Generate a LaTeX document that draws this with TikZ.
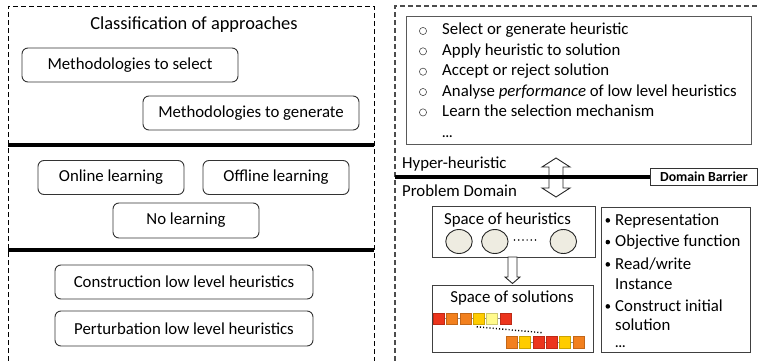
\documentclass[tikz,border=0pt]{standalone}
\usepackage{fontspec}
\usetikzlibrary{shapes.geometric}
\setmainfont{Carlito}
\definecolor{cred}{RGB}{236,52,28}
\definecolor{corange}{RGB}{242,128,30}
\definecolor{cgold}{RGB}{255,204,0}
\definecolor{clight}{RGB}{255,250,140}
\definecolor{cbeige}{RGB}{238,236,225}
\begin{document}
\begin{tikzpicture}[x=1pt,y=-1pt,
  panel/.style={dash pattern=on 5pt off 3pt, line width=0.9pt},
  divider/.style={line width=3.4pt},
  base/.style={font=\fontsize{16.8}{20}\selectfont, inner sep=0pt},
  title/.style={font=\fontsize{18.4}{22}\selectfont, inner sep=0pt},
  rbox/.style 2 args={draw=black!80, line width=0.9pt, rounded corners=6pt,
    base, minimum width=#1pt, minimum height=#2pt},
  txt/.style={base, anchor=base west},
  more/.style={font=\bfseries\fontsize{13}{14}\selectfont, inner sep=0pt, anchor=base west},
  frame/.style={draw=black!75, line width=1.1pt, inner sep=0pt},
  ring/.style={draw=black!70, line width=0.6pt},
  blockarrow/.style={draw=black!85, fill=white, line width=0.9pt, line join=miter},
  heur/.style={draw=black!85, fill=cbeige, line width=0.9pt, ellipse, inner sep=0pt,
    minimum width=26.5pt, minimum height=24pt},
  sq/.style={draw=#1!80!black, fill=#1, line width=0.4pt, inner sep=0pt,
    minimum width=10.8pt, minimum height=11pt},
  sqb/.style={draw=#1!80!black, fill=#1, line width=0.4pt, inner sep=0pt,
    minimum width=11.2pt, minimum height=12.6pt}
]
\useasboundingbox (0,0) rectangle (758,361);

% ---------- left panel: classification ----------
\draw[panel] (8,361) -- (8,6) -- (374,6) -- (374,361);
\draw[divider] (8,145) -- (374,145);
\draw[divider] (8,250) -- (374,250);

\node[title, anchor=base] (cls) at (194,30) {Classification of approaches};
\node[rbox={216}{34}] (sel) at (130,65) {Methodologies to select};
\node[rbox={216}{34}] (gen) at (251,113) {Methodologies to generate};
\node[rbox={146}{34}] (onl) at (111,177.5) {Online learning};
\node[rbox={146}{34}] (ofl) at (276,177.5) {Offline learning};
\node[rbox={146}{35}] (nol) at (186,220.5) {No learning};
\node[rbox={258}{34}] (con) at (184,282) {Construction low level heuristics};
\node[rbox={258}{35}] (per) at (184,328.5) {Perturbation low level heuristics};

% ---------- right panel: hyper-heuristic framework ----------
\draw[panel, draw=black!70, line width=1.2pt] (395,361) -- (395,6) -- (758,6);

\node[frame, draw=black!65, line width=1.3pt, anchor=north west,
  minimum width=345pt, minimum height=128pt] (ops) at (406,16) {};
\foreach \t [count=\i] in {Select or generate heuristic,
    Apply heuristic to solution,
    Accept or reject solution,
    Analyse \emph{performance} of low level heuristics,
    Learn the selection mechanism} {
  \node[txt] (op\i) at (442,{35+20.35*(\i-1)}) {\t};
  \draw[ring] (423,{31+20.35*(\i-1)}) circle (3.6pt);
}
\node[more] (opmore) at (442,137) {...};

% double block arrow across the barrier
\coordinate (link) at (556,177.5);
\draw[blockarrow, shift={(link)}]
  (0,-19.5) -- (14,-10.5) -- (7,-10.5) -- (7,10.5) -- (14,10.5) -- (0,19.5)
  -- (-14,10.5) -- (-7,10.5) -- (-7,-10.5) -- (-14,-10.5) -- cycle;

\draw[divider, line width=3.6pt] (395,177) -- (651,177);
\node[draw=black!80, line width=0.8pt, fill=white, anchor=north west, inner sep=0pt,
  minimum width=107pt, minimum height=17pt,
  font=\bfseries\fontsize{13.8}{16}\selectfont] (barrier) at (650,168.3) {Domain Barrier};

\node[txt] (hyper) at (402,168) {Hyper-heuristic};
\node[txt] (dom) at (402,196.7) {Problem Domain};

% space of heuristics
\node[frame, anchor=north west, minimum width=163pt, minimum height=51pt] (hs) at (432,206) {};
\node[base, anchor=base] (hst) at (507.5,224.3) {Space of heuristics};
\node[heur] (h1) at (459,241.5) {};
\node[heur] (h2) at (494.8,241.5) {};
\node[heur] (h3) at (563.3,241.5) {};
\foreach \k in {0,...,5} \fill (514.5+4.2*\k,240) circle (0.85pt);

% arrow from heuristics to solutions
\coordinate (down) at (512.5,257);
\draw[blockarrow, shift={(down)}]
  (-4.5,0) -- (4.5,0) -- (4.5,20) -- (7.5,20) -- (0,26.5) -- (-7.5,20) -- (-4.5,20) -- cycle;

% space of solutions
\node[frame, anchor=north west, minimum width=161pt, minimum height=67pt] (ss) at (432,285) {};
\node[base, anchor=base] (sst) at (512,302.7) {Space of solutions};
\draw[black!45, line width=0.6pt] (438.7,318.7) -- (505.3,318.7);
\foreach \c [count=\i] in {cred,corange,corange,cgold,clight,cred}
  \node[sq=\c] (a\i) at ({438.7+13.33*(\i-1)},318.7) {};
\draw[black!45, line width=0.6pt] (511.7,342.2) -- (578.3,342.2);
\foreach \c [count=\i] in {corange,cgold,cred,cred,cgold,corange}
  \node[sqb=\c] (b\i) at ({511.7+13.33*(\i-1)},342.2) {};
\draw[line width=1.4pt, dash pattern=on 1.1pt off 2.1pt] (476.7,326.8) -- (543.3,332.8);

% problem domain components
\node[frame, anchor=north west, minimum width=149pt, minimum height=145.5pt] (pd) at (601,206.7) {};
\node[txt] (r1) at (615,225) {Representation};
\node[txt] (r2) at (615,246.7) {Objective function};
\node[txt] (r3) at (615,269) {Read/write};
\node[txt] (r4) at (615,289.5) {Instance};
\node[txt] (r5) at (615,311) {Construct initial};
\node[txt] (r6) at (615,330.5) {solution};
\node[more] (r7) at (615,347.5) {...};
\foreach \y in {225,246.7,269,311} \fill (607.8,\y-4.6) circle (2.3pt);
\end{tikzpicture}
\end{document}
